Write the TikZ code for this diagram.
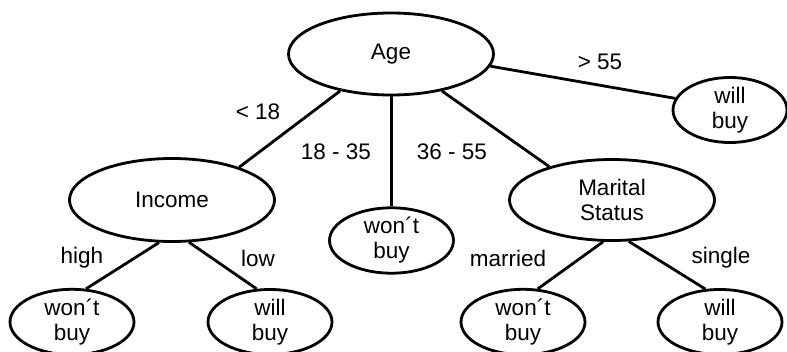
\documentclass[tikz,border=0pt]{standalone}
\usepackage{fontspec}
\setmainfont{Liberation Sans}
\usetikzlibrary{shapes.geometric}
\begin{document}
\begin{tikzpicture}[x=1pt,y=-1pt,
  every node/.style={font=\fontsize{22.5}{25}\selectfont},
  oval/.style={draw, ellipse, line width=2.8pt, inner sep=0pt, align=center},
  big/.style={oval, minimum width=205pt, minimum height=82pt},
  leaf/.style={oval, minimum width=124pt, minimum height=65pt},
  edge/.style={line width=2.8pt},
  lbl/.style={inner sep=0pt}]
\useasboundingbox (0,0) rectangle (787,351);
\clip (0,0) rectangle (787,351);
\node[big] (age) at (391,54) {Age};
\node[big, minimum height=83pt] (income) at (172,200) {Income};
\node[big, minimum height=81pt] (marital) at (612,200) {Marital\\Status};
\node[leaf] (mid) at (391.5,240.5) {won´t\\buy};
\node[leaf, minimum width=114pt] (old) at (730,110) {will\\buy};
\node[leaf] (ihigh) at (72,322) {won´t\\buy};
\node[leaf] (ilow) at (270,322) {will\\buy};
\node[leaf] (mmar) at (523,322) {won´t\\buy};
\node[leaf] (msin) at (720,322) {will\\buy};

\draw[edge] (age.216) -- (income.26);
\draw[edge] (age.south -| mid.north) -- (mid.north);
\draw[edge] (age.324) -- (marital.152);
\draw[edge] (age.353) -- (old.168);
\draw[edge] (income.253) -- (ihigh.67);
\draw[edge] (income.292) -- (ilow.112);
\draw[edge] (marital.258) -- (mmar.66);
\draw[edge] (marital.292) -- (msin.114);

\node[lbl] (l1) at (258,112) {< 18};
\node[lbl] (l2) at (336,152) {18 - 35};
\node[lbl] (l3) at (452,152) {36 - 55};
\node[lbl] (l4) at (600,62) {> 55};
\node[lbl] (l5) at (82,258) {high};
\node[lbl] (l6) at (258,258) {low};
\node[lbl] (l7) at (508,258) {married};
\node[lbl] (l8) at (721,258) {single};
\end{tikzpicture}
\end{document}
